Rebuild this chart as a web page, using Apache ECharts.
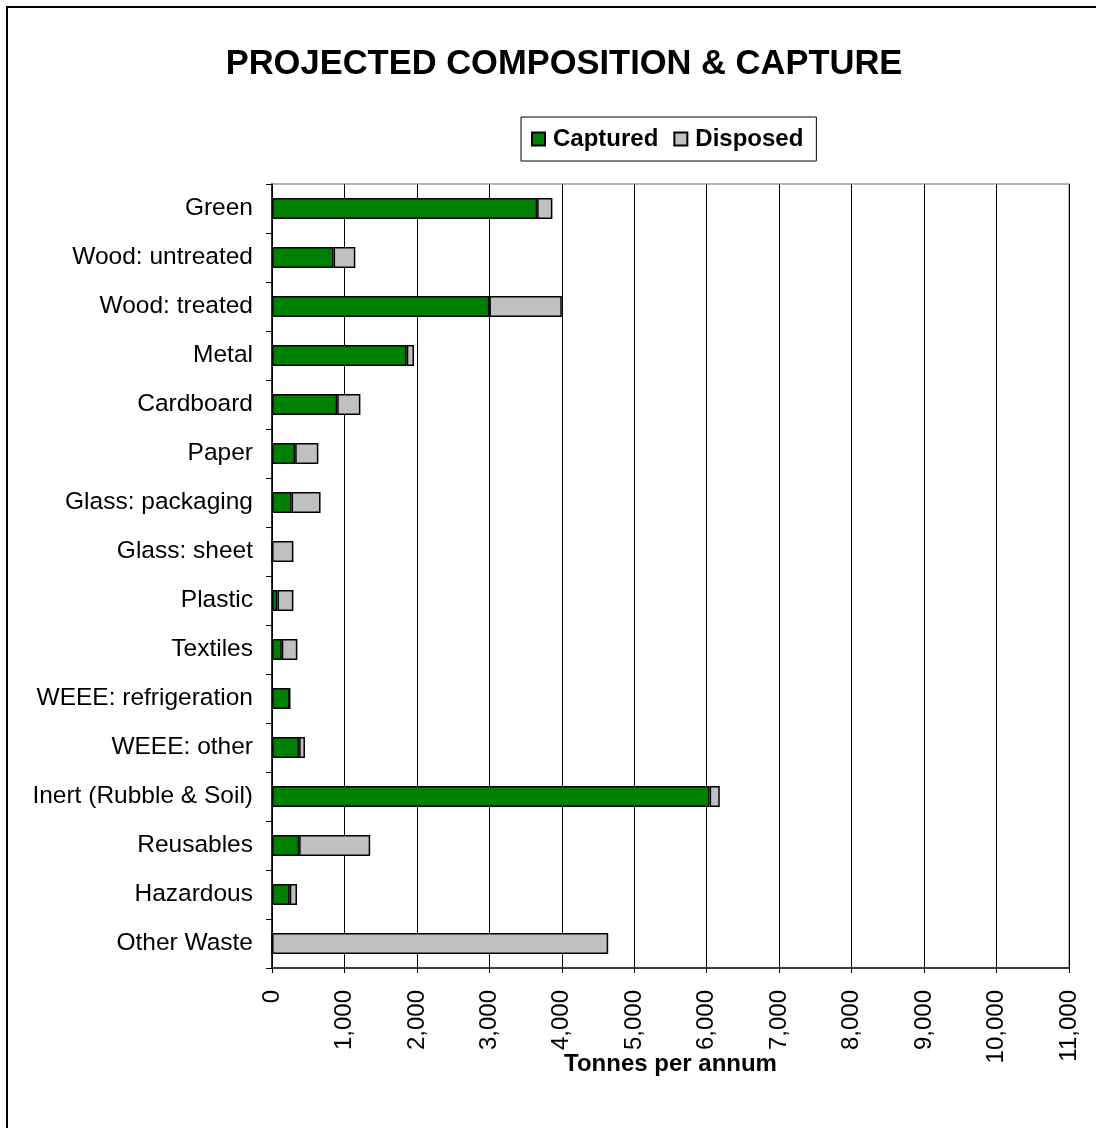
<!DOCTYPE html>
<html>
<head>
<meta charset="utf-8">
<script src="https://cdn.jsdelivr.net/npm/echarts@6/dist/echarts.min.js"></script>
<style>
html,body{margin:0;padding:0;background:#fff;}
#chart{width:1096px;height:1128px;}
</style>
</head>
<body>
<div id="chart"></div>
<script>
const categories = ["Green","Wood: untreated","Wood: treated","Metal","Cardboard","Paper","Glass: packaging","Glass: sheet","Plastic","Textiles","WEEE: refrigeration","WEEE: other","Inert (Rubble & Soil)","Reusables","Hazardous","Other Waste"];
const captured = [3660,850,3000,1860,900,320,270,0,75,135,245,375,6040,375,245,0];
const disposed = [210,300,1000,100,320,320,400,295,220,215,0,80,140,980,100,4640];
const xTicks = {min:0, max:11000, interval:1000};

const FONT = '"Liberation Sans", Arial, sans-serif';
const chart = echarts.init(document.getElementById('chart'), null, {renderer:'canvas'});
chart.setOption({
  backgroundColor:'#ffffff',
  animation:false,
  graphic:[{type:'rect', shape:{x:7,y:7,width:1200,height:1200}, style:{fill:'none', stroke:'#000', lineWidth:2}, silent:true, z:-1}],
  title:{text:'PROJECTED COMPOSITION & CAPTURE', left:559, textAlign:'center', top:42,
    textStyle:{fontFamily:FONT, fontSize:34.5, fontWeight:'bold', color:'#000'}},
  legend:{left:521, top:117, padding:[10,13,10,10], itemGap:15, itemWidth:13, itemHeight:13,
    borderColor:'#000', borderWidth:1, icon:'rect',
    textStyle:{fontFamily:FONT, fontSize:24, fontWeight:'bold', color:'#000', padding:[0,0,0,3]},
    data:['Captured','Disposed']},
  grid:{left:272, right:27, top:184, bottom:160, show:true, borderColor:'#999', borderWidth:1.5, containLabel:false},
  xAxis:{type:'value', min:xTicks.min, max:xTicks.max, interval:xTicks.interval,
    name:'Tonnes per annum', nameLocation:'middle', nameGap:84, nameMoveOverlap:false,
    nameTextStyle:{fontFamily:FONT, fontSize:24, fontWeight:'bold', color:'#000'},
    axisLine:{show:true, lineStyle:{color:'#404040', width:2}},
    axisTick:{show:true, length:5, lineStyle:{color:'#000'}},
    splitLine:{show:true, lineStyle:{color:'#000', width:1}},
    axisLabel:{rotate:90, margin:22, fontFamily:FONT, fontSize:24, color:'#000',
      formatter:v=>v.toLocaleString('en-US')}},
  yAxis:{type:'category', data:categories, inverse:true,
    axisLine:{show:true, lineStyle:{color:'#000', width:1.5}},
    axisTick:{show:true, length:6, lineStyle:{color:'#000'}},
    axisLabel:{margin:19, fontFamily:FONT, fontSize:24.5, color:'#000'}},
  series:[
    {name:'Captured', type:'bar', stack:'t', data:captured, barWidth:'43%',
      itemStyle:{color:'#008000', borderColor:'#000', borderWidth:1.5}},
    {name:'Disposed', type:'bar', stack:'t', data:disposed, barWidth:'43%',
      itemStyle:{color:'#C0C0C0', borderColor:'#000', borderWidth:1.5}}
  ]
});
</script>
</body>
</html>
